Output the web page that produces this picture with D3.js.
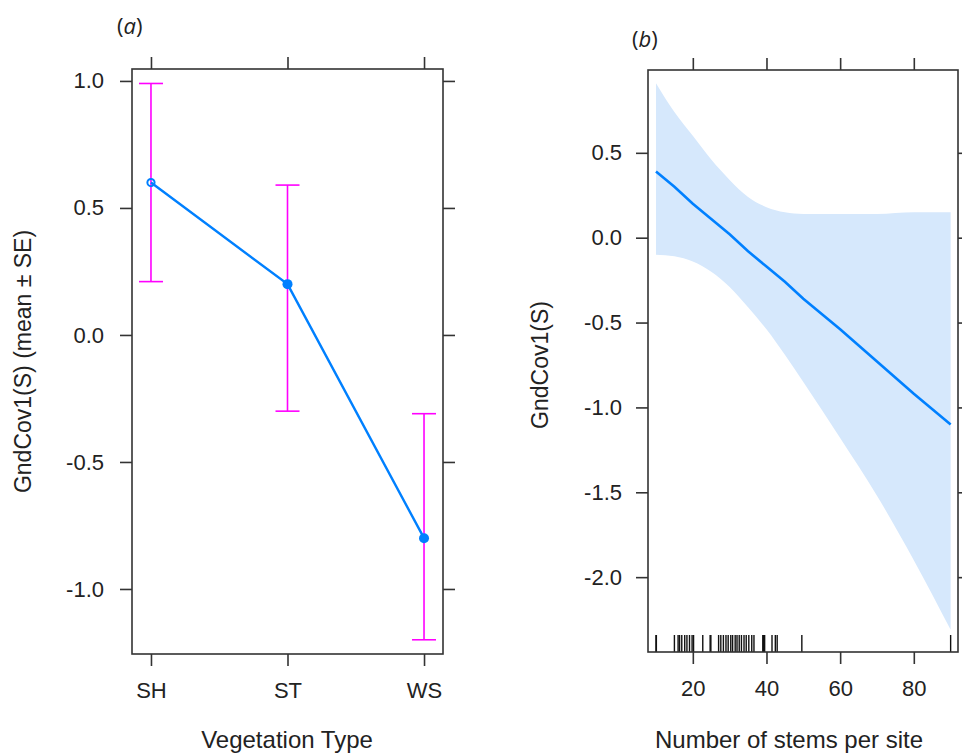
<!DOCTYPE html>
<html>
<head>
<meta charset="utf-8">
<script src="https://cdn.jsdelivr.net/npm/d3@7"></script>
<style>
  html, body { margin: 0; padding: 0; background: #fff; }
  svg { display: block; }
  text { font-family: "Liberation Sans", Arial, sans-serif; fill: #222; }
</style>
</head>
<body>
<svg id="chart" width="962" height="756"></svg>
<script>
// ---- Panel (a) data ----
const vegTypes = ["SH", "ST", "WS"];
const vegMeans = [0.60, 0.20, -0.80];
const vegUpper = [0.99, 0.59, -0.31];
const vegLower = [0.21, -0.30, -1.20];
const yTicksA = [-1.0, -0.5, 0.0, 0.5, 1.0];

// ---- Panel (b) data ----
const stemsX = [10, 15, 20, 25, 30, 35, 40, 45, 50, 60, 70, 80, 90];
const fitY   = [0.39, 0.30, 0.20, 0.11, 0.02, -0.08, -0.17, -0.26, -0.36, -0.54, -0.73, -0.92, -1.10];
const ciUpper = [0.91, 0.74, 0.60, 0.46, 0.34, 0.24, 0.18, 0.15, 0.14, 0.14, 0.14, 0.15, 0.15];
const ciLower = [-0.10, -0.11, -0.14, -0.20, -0.29, -0.41, -0.54, -0.69, -0.85, -1.18, -1.52, -1.90, -2.31];
const rugX = [10, 10.1, 15, 16, 16.4, 17, 17.8, 18.4, 19.1, 19.8, 20.2, 22.7, 24.7, 24.9, 27, 27.6, 28.3, 29,
              29.6, 30.3, 30.8, 31.5, 32, 32.6, 33.2, 33.9, 34.5, 35.2, 36, 36.6, 39, 39.2, 39.5, 41.5, 42.4, 42.9, 49.6, 90];
const xTicksB = [20, 40, 60, 80];
const yTicksB = [-2.0, -1.5, -1.0, -0.5, 0.0, 0.5];

const svg = d3.select("#chart");
const fmt = d => d.toFixed(1);
const frameColor = "#333";
const tickLen = 12;
const tickFont = "22px";
const titleFont = "24px";

// ---------- Panel (a) ----------
const A = { left: 132, right: 443, top: 69, bottom: 654 };
const xA = d3.scaleLinear().domain([0.861, 3.139]).range([A.left, A.right]);
const yA = d3.scaleLinear().domain([-1.256, 1.047]).range([A.bottom, A.top]);
const gA = svg.append("g");

gA.append("rect").attr("x", A.left).attr("y", A.top)
  .attr("width", A.right - A.left).attr("height", A.bottom - A.top)
  .attr("fill", "none").attr("stroke", frameColor).attr("stroke-width", 1.6);

const catIdx = vegTypes.map((d, i) => i + 1);
const axABottom = d3.axisBottom(xA).tickValues(catIdx).tickFormat(i => vegTypes[i - 1]).tickSizeOuter(0).tickSize(tickLen).tickPadding(16);
const axATop = d3.axisTop(xA).tickValues(catIdx).tickFormat("").tickSizeOuter(0).tickSize(tickLen);
const axALeft = d3.axisLeft(yA).tickValues(yTicksA).tickFormat(fmt).tickSizeOuter(0).tickSize(tickLen).tickPadding(16);
const axARight = d3.axisRight(yA).tickValues(yTicksA).tickFormat("").tickSizeOuter(0).tickSize(tickLen);

function styleAxis(g) {
  g.select(".domain").remove();
  g.selectAll(".tick line").attr("stroke", frameColor).attr("stroke-width", 1.6);
  g.selectAll(".tick text").style("font-size", tickFont).style("font-family", '"Liberation Sans", Arial, sans-serif').attr("fill", "#222");
}
gA.append("g").attr("transform", `translate(0,${A.bottom})`).call(axABottom).call(styleAxis);
gA.append("g").attr("transform", `translate(0,${A.top})`).call(axATop).call(styleAxis);
gA.append("g").attr("transform", `translate(${A.left},0)`).call(axALeft).call(styleAxis);
gA.append("g").attr("transform", `translate(${A.right},0)`).call(axARight).call(styleAxis);

// error bars
const capHalf = 12;
const eb = gA.append("g").attr("stroke", "#ff00ff").attr("stroke-width", 1.6);
catIdx.forEach((c, i) => {
  const x = xA(c);
  eb.append("line").attr("x1", x).attr("x2", x).attr("y1", yA(vegUpper[i])).attr("y2", yA(vegLower[i]));
  eb.append("line").attr("x1", x - capHalf).attr("x2", x + capHalf).attr("y1", yA(vegUpper[i])).attr("y2", yA(vegUpper[i]));
  eb.append("line").attr("x1", x - capHalf).attr("x2", x + capHalf).attr("y1", yA(vegLower[i])).attr("y2", yA(vegLower[i]));
});
gA.append("path").datum(catIdx.map((c, i) => [c, vegMeans[i]]))
  .attr("d", d3.line().x(d => xA(d[0])).y(d => yA(d[1])))
  .attr("fill", "none").attr("stroke", "#0080ff").attr("stroke-width", 2.4);
catIdx.forEach((c, i) => {
  const p = gA.append("circle").attr("cx", xA(c)).attr("cy", yA(vegMeans[i]));
  if (i === 0) p.attr("r", 3.6).attr("fill", "none").attr("stroke", "#0080ff").attr("stroke-width", 2);
  else p.attr("r", 5).attr("fill", "#0080ff");
});

gA.append("text").attr("x", 287).attr("y", 748).attr("text-anchor", "middle")
  .style("font-size", titleFont).text("Vegetation Type");
gA.append("text").attr("transform", `translate(31,${(A.top + A.bottom) / 2}) rotate(-90)`).attr("text-anchor", "middle")
  .style("font-size", "23px").text("GndCov1(S) (mean ± SE)");
const ta = gA.append("text").attr("x", 117).attr("y", 34).style("font-size", "22px").style("font-family", '"Open Sans", sans-serif');
ta.append("tspan").text("(");
ta.append("tspan").style("font-style", "italic").text("a");
ta.append("tspan").text(")");

// ---------- Panel (b) ----------
const B = { left: 648, right: 958, top: 70, bottom: 652 };
const xB = d3.scaleLinear().domain([7.83, 92.0]).range([B.left, B.right]);
const yB = d3.scaleLinear().domain([-2.441, 0.988]).range([B.bottom, B.top]);
const gB = svg.append("g");

const band = stemsX.map((x, i) => ({ x, lo: ciLower[i], hi: ciUpper[i], fit: fitY[i] }));
gB.append("path").datum(band)
  .attr("d", d3.area().curve(d3.curveMonotoneX).x(d => xB(d.x)).y0(d => yB(d.lo)).y1(d => yB(d.hi)))
  .attr("fill", "#d6e8fc");
gB.append("path").datum(band)
  .attr("d", d3.line().x(d => xB(d.x)).y(d => yB(d.fit)))
  .attr("fill", "none").attr("stroke", "#0080ff").attr("stroke-width", 2.6);

gB.append("g").selectAll("line").data(rugX).join("line")
  .attr("x1", d => xB(d)).attr("x2", d => xB(d))
  .attr("y1", B.bottom).attr("y2", B.bottom - 17)
  .attr("stroke", "#111").attr("stroke-width", 1.4);

gB.append("rect").attr("x", B.left).attr("y", B.top)
  .attr("width", B.right - B.left).attr("height", B.bottom - B.top)
  .attr("fill", "none").attr("stroke", frameColor).attr("stroke-width", 1.6);

const axBBottom = d3.axisBottom(xB).tickValues(xTicksB).tickFormat(d3.format("d")).tickSizeOuter(0).tickSize(tickLen).tickPadding(16);
const axBTop = d3.axisTop(xB).tickValues(xTicksB).tickFormat("").tickSizeOuter(0).tickSize(tickLen);
const axBLeft = d3.axisLeft(yB).tickValues(yTicksB).tickFormat(fmt).tickSizeOuter(0).tickSize(tickLen).tickPadding(14);
const axBRight = d3.axisRight(yB).tickValues(yTicksB).tickFormat("").tickSizeOuter(0).tickSize(tickLen);
gB.append("g").attr("transform", `translate(0,${B.bottom})`).call(axBBottom).call(styleAxis);
gB.append("g").attr("transform", `translate(0,${B.top})`).call(axBTop).call(styleAxis);
gB.append("g").attr("transform", `translate(${B.left},0)`).call(axBLeft).call(styleAxis);
gB.append("g").attr("transform", `translate(${B.right},0)`).call(axBRight).call(styleAxis);

gB.append("text").attr("x", 789).attr("y", 748).attr("text-anchor", "middle")
  .style("font-size", titleFont).text("Number of stems per site");
gB.append("text").attr("transform", `translate(548,365) rotate(-90)`).attr("text-anchor", "middle")
  .style("font-size", "23px").text("GndCov1(S)");
const tb = gB.append("text").attr("x", 632).attr("y", 47).style("font-size", "22px").style("font-family", '"Open Sans", sans-serif');
tb.append("tspan").text("(");
tb.append("tspan").style("font-style", "italic").text("b");
tb.append("tspan").text(")");
</script>
</body>
</html>
